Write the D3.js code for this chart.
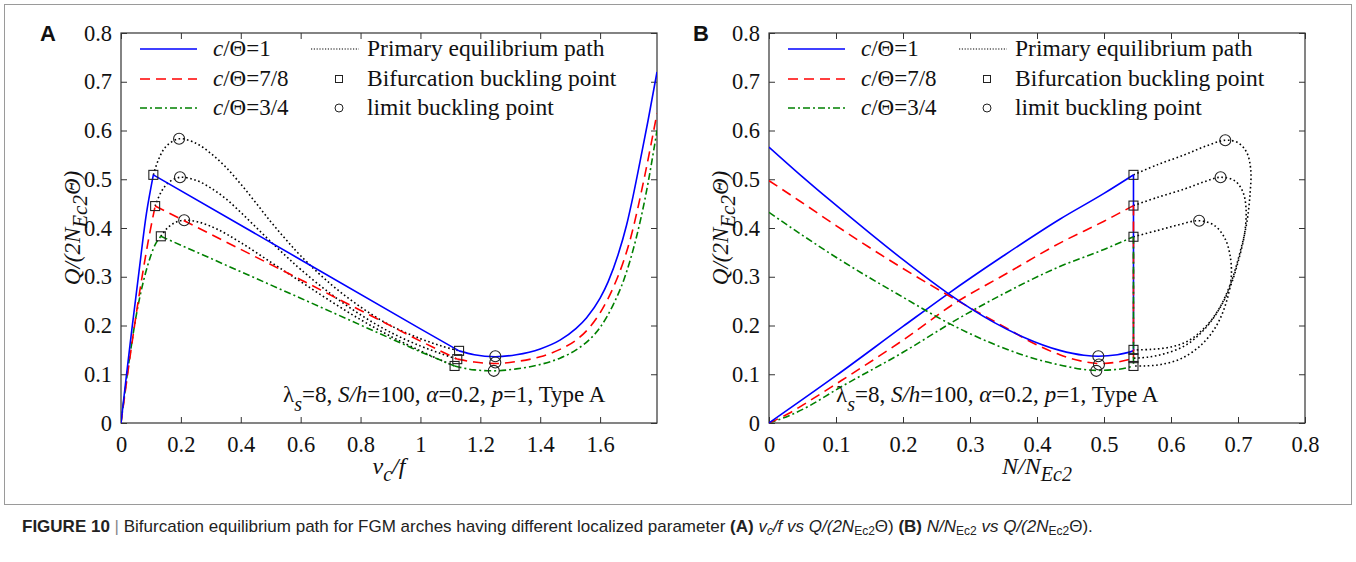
<!DOCTYPE html>
<html><head><meta charset="utf-8">
<script src="https://cdnjs.cloudflare.com/ajax/libs/d3/7.8.5/d3.min.js"></script>
<style>
body{margin:0;background:#fff;}
svg{display:block;}
</style></head>
<body>
<svg id="chart" width="1356" height="562"></svg>
<script>
// ---------------- DATA ----------------
const seriesLabels = ["c/Θ=1", "c/Θ=7/8", "c/Θ=3/4"];
const seriesColors = ["#0000ff", "#ff0000", "#008000"];
const seriesDash = [null, "10,6", "7,3,2,3"];
const yTicks = [0, 0.1, 0.2, 0.3, 0.4, 0.5, 0.6, 0.7, 0.8];
const xTicksA = [0, 0.2, 0.4, 0.6, 0.8, 1, 1.2, 1.4, 1.6];
const xTicksB = [0, 0.1, 0.2, 0.3, 0.4, 0.5, 0.6, 0.7, 0.8];

// Panel A: v_c/f vs Q/(2N_Ec2 Θ)
// pre-buckling ramps (0 -> bifurcation point)
const aBlueRamp = [[0,0],[0.03,0.16],[0.06,0.31],[0.085,0.43],[0.108,0.509]];
const aRedRamp = [[0,0],[0.03,0.135],[0.06,0.26],[0.09,0.37],[0.114,0.445]];
const aGreenRamp = [[0,0],[0.03,0.14],[0.06,0.25],[0.09,0.325],[0.115,0.367],[0.133,0.383]];
// bifurcation branches (upper -> lower bifurcation point)
const aBlueBranch = [[0.108,0.509],[0.6,0.335],[1.0,0.193],[1.129,0.148]];
const aRedBranch = [[0.114,0.445],[0.6,0.294],[1.0,0.168],[1.123,0.131]];
const aGreenBranch = [[0.133,0.383],[0.6,0.256],[1.0,0.146],[1.114,0.117]];
// post-buckling (lower bifurcation point -> end)
const aBlueRight = [[1.129,0.148],[1.18,0.14],[1.25,0.136],[1.32,0.14],[1.40,0.152],[1.466,0.17],[1.52,0.194],[1.555,0.216],[1.6,0.256],[1.627,0.29],[1.66,0.345],[1.688,0.405],[1.71,0.465],[1.733,0.535],[1.76,0.62],[1.79,0.72]];
const aRedRight = [[1.123,0.131],[1.18,0.125],[1.25,0.122],[1.32,0.126],[1.40,0.136],[1.466,0.151],[1.52,0.17],[1.566,0.197],[1.60,0.226],[1.644,0.278],[1.68,0.335],[1.70,0.375],[1.722,0.43],[1.75,0.51],[1.79,0.635]];
const aGreenRight = [[1.114,0.117],[1.18,0.109],[1.245,0.107],[1.32,0.111],[1.40,0.12],[1.466,0.133],[1.52,0.15],[1.566,0.172],[1.60,0.196],[1.644,0.243],[1.68,0.295],[1.70,0.333],[1.722,0.383],[1.75,0.46],[1.79,0.60]];
// primary equilibrium paths (dotted)
const aBluePrimary = [[0.108,0.509],[0.125,0.54],[0.15,0.567],[0.194,0.583],[0.25,0.574],[0.30,0.553],[0.35,0.525],[0.40,0.49],[0.45,0.452],[0.50,0.413],[0.55,0.377],[0.60,0.343],[0.70,0.285],[0.80,0.238],[0.90,0.2],[1.00,0.173],[1.07,0.158],[1.129,0.148]];
const aRedPrimary = [[0.114,0.445],[0.135,0.475],[0.16,0.494],[0.197,0.504],[0.25,0.498],[0.30,0.482],[0.35,0.46],[0.40,0.432],[0.45,0.402],[0.50,0.372],[0.55,0.343],[0.60,0.315],[0.70,0.265],[0.80,0.222],[0.90,0.186],[1.00,0.158],[1.07,0.142],[1.123,0.131]];
const aGreenPrimary = [[0.133,0.383],[0.155,0.4],[0.18,0.411],[0.211,0.416],[0.26,0.412],[0.32,0.398],[0.40,0.37],[0.50,0.33],[0.60,0.29],[0.70,0.25],[0.80,0.212],[0.90,0.178],[1.00,0.148],[1.06,0.131],[1.114,0.117]];
const aBifurcation = [[0.108,0.509],[0.114,0.445],[0.133,0.383],[1.129,0.148],[1.123,0.131],[1.114,0.117]];
const aLimit = [[0.194,0.583],[0.197,0.504],[0.211,0.416],[1.25,0.137],[1.25,0.124],[1.245,0.107]];

// Panel B: N/N_Ec2 vs Q/(2N_Ec2 Θ)
const bBlueRise = [[0,0],[0.1,0.097],[0.2,0.198],[0.265,0.263],[0.35,0.343],[0.434,0.418],[0.5,0.471],[0.544,0.509]];
const bRedRise = [[0,0],[0.03,0.02],[0.06,0.045],[0.1,0.08],[0.2,0.17],[0.28,0.248],[0.35,0.303],[0.434,0.369],[0.5,0.414],[0.544,0.446]];
const bGreenRise = [[0,0],[0.03,0.015],[0.06,0.035],[0.1,0.068],[0.2,0.145],[0.285,0.216],[0.35,0.265],[0.434,0.321],[0.5,0.356],[0.544,0.382]];
const bBlueFall = [[0,0.566],[0.05,0.505],[0.091,0.457],[0.15,0.39],[0.2,0.335],[0.265,0.268],[0.335,0.207],[0.38,0.176],[0.434,0.149],[0.47,0.139],[0.4915,0.137],[0.52,0.14],[0.544,0.148]];
const bRedFall = [[0,0.497],[0.044,0.457],[0.1,0.405],[0.15,0.36],[0.2,0.317],[0.28,0.252],[0.35,0.198],[0.4,0.16],[0.434,0.14],[0.47,0.126],[0.4925,0.122],[0.52,0.125],[0.544,0.133]];
const bGreenFall = [[0,0.432],[0.05,0.385],[0.1,0.34],[0.15,0.298],[0.2,0.258],[0.265,0.207],[0.33,0.165],[0.38,0.139],[0.434,0.119],[0.4885,0.108],[0.52,0.11],[0.544,0.117]];
const bBlueVert = [[0.544,0.509],[0.544,0.148]];
const bRedVert = [[0.544,0.446],[0.544,0.133]];
const bGreenVert = [[0.544,0.382],[0.544,0.117]];
const bBluePrimary = [[0.544,0.509],[0.58,0.53],[0.62,0.55],[0.65,0.567],[0.681,0.58],[0.70,0.575],[0.713,0.555],[0.719,0.52],[0.718,0.47],[0.713,0.41],[0.703,0.35],[0.69,0.29],[0.672,0.235],[0.65,0.195],[0.625,0.168],[0.60,0.156],[0.57,0.151],[0.544,0.15]];
const bRedPrimary = [[0.544,0.446],[0.58,0.463],[0.62,0.48],[0.65,0.495],[0.674,0.504],[0.695,0.497],[0.707,0.475],[0.712,0.44],[0.71,0.39],[0.70,0.33],[0.687,0.275],[0.668,0.225],[0.645,0.185],[0.62,0.158],[0.59,0.142],[0.565,0.135],[0.544,0.133]];
const bGreenPrimary = [[0.544,0.382],[0.58,0.395],[0.61,0.406],[0.642,0.415],[0.665,0.405],[0.68,0.38],[0.688,0.345],[0.69,0.30],[0.683,0.25],[0.668,0.20],[0.645,0.16],[0.615,0.132],[0.585,0.12],[0.56,0.117],[0.544,0.117]];
const bBifurcation = [[0.544,0.509],[0.544,0.446],[0.544,0.382],[0.544,0.15],[0.544,0.133],[0.544,0.117]];
const bLimit = [[0.681,0.58],[0.674,0.504],[0.642,0.415],[0.4915,0.137],[0.4925,0.12],[0.4885,0.107]];

const legendExtra = ["Primary equilibrium path", "Bifurcation buckling point", "limit buckling point"];
const noteText = "Type A";

// ---------------- DRAW ----------------
const svg = d3.select("#chart");
const serif = "'Liberation Serif','Times New Roman',serif";
const sans = "'Liberation Sans',Arial,sans-serif";

svg.append("rect").attr("x",4.5).attr("y",4.5).attr("width",1347).attr("height",500)
  .attr("fill","none").attr("stroke","#9a9a9a").attr("stroke-width",1);

const plotTop = 33, plotBottom = 423;
const y = d3.scaleLinear().domain([0,0.8]).range([plotBottom, plotTop]);

function panel(cfg){
  const x = d3.scaleLinear().domain(cfg.xDomain).range([cfg.left, cfg.right]);
  const g = svg.append("g");
  g.append("rect").attr("x",cfg.left).attr("y",plotTop).attr("width",cfg.right-cfg.left).attr("height",plotBottom-plotTop)
    .attr("fill","none").attr("stroke","#333").attr("stroke-width",1.2);
  const axB = d3.axisBottom(x).tickValues(cfg.xTicks).tickSizeInner(-6).tickSizeOuter(0).tickPadding(13).tickFormat(d3.format("~g"));
  const axT = d3.axisTop(x).tickValues(cfg.xTicks).tickSizeInner(-6).tickSizeOuter(0).tickFormat("");
  const axL = d3.axisLeft(y).tickValues(yTicks).tickSizeInner(-6).tickSizeOuter(0).tickPadding(9).tickFormat(d3.format("~g"));
  const axR = d3.axisRight(y).tickValues(yTicks).tickSizeInner(-6).tickSizeOuter(0).tickFormat("");
  const styleAxis = sel => { sel.select(".domain").remove(); sel.selectAll("line").attr("stroke","#333");
    sel.selectAll("text").attr("font-family",serif).attr("font-size",22.5).attr("fill","#111"); };
  g.append("g").attr("transform",`translate(0,${plotBottom})`).call(axB).call(styleAxis);
  g.append("g").attr("transform",`translate(0,${plotTop})`).call(axT).call(styleAxis);
  g.append("g").attr("transform",`translate(${cfg.left},0)`).call(axL).call(styleAxis);
  g.append("g").attr("transform",`translate(${cfg.right},0)`).call(axR).call(styleAxis);

  const clipId = "clip"+cfg.name;
  svg.append("clipPath").attr("id",clipId).append("rect").attr("x",cfg.left).attr("y",plotTop-2)
    .attr("width",cfg.right-cfg.left).attr("height",plotBottom-plotTop+4);
  const pg = g.append("g").attr("clip-path",`url(#${clipId})`);

  const lineLin = d3.line().x(d=>x(d[0])).y(d=>y(d[1])).curve(d3.curveLinear);
  const lineMono = d3.line().x(d=>x(d[0])).y(d=>y(d[1])).curve(d3.curveMonotoneX);
  const lineSmooth = d3.line().x(d=>x(d[0])).y(d=>y(d[1])).curve(d3.curveCatmullRom.alpha(0.5));
  const gen = {lin:lineLin, mono:lineMono, smooth:lineSmooth};

  cfg.primary.forEach(p => pg.append("path").attr("d",gen[cfg.primaryCurve](p)).attr("fill","none")
    .attr("stroke","#000").attr("stroke-width",1.6).attr("stroke-dasharray","1.6,2.6"));
  cfg.colored.forEach(c => pg.append("path").attr("d",gen[c.c](c.data)).attr("fill","none")
    .attr("stroke",seriesColors[c.s]).attr("stroke-width",1.6).attr("stroke-dasharray",seriesDash[c.s]));
  pg.selectAll(null).data(cfg.bif).join("rect")
    .attr("x",d=>x(d[0])-4.5).attr("y",d=>y(d[1])-4.5).attr("width",9).attr("height",9)
    .attr("fill","none").attr("stroke","#222").attr("stroke-width",1.1);
  pg.selectAll(null).data(cfg.lim).join("circle")
    .attr("cx",d=>x(d[0])).attr("cy",d=>y(d[1])).attr("r",5.5)
    .attr("fill","none").attr("stroke","#222").attr("stroke-width",1.1);

  // legend
  const lx = cfg.left + 19, rows = [49, 79, 108];
  seriesLabels.forEach((lab,i) => {
    g.append("line").attr("x1",lx).attr("x2",lx+57).attr("y1",rows[i]).attr("y2",rows[i])
      .attr("stroke",seriesColors[i]).attr("stroke-width",1.6).attr("stroke-dasharray",seriesDash[i]);
    const t = g.append("text").attr("x",lx+73).attr("y",rows[i]+7).attr("font-family",serif).attr("font-size",23).attr("fill","#111");
    t.append("tspan").attr("font-style","italic").text("c");
    t.append("tspan").text(lab.slice(1));
  });
  const mx = cfg.left + 218;
  g.append("line").attr("x1",cfg.left+190).attr("x2",cfg.left+238).attr("y1",rows[0]).attr("y2",rows[0])
    .attr("stroke","#000").attr("stroke-width",1.2).attr("stroke-dasharray","1.2,1.6");
  g.append("rect").attr("x",mx-3.5).attr("y",rows[1]-3.5).attr("width",7).attr("height",7).attr("fill","none").attr("stroke","#222");
  g.append("circle").attr("cx",mx).attr("cy",rows[2]).attr("r",4).attr("fill","none").attr("stroke","#222");
  legendExtra.forEach((t,i) => g.append("text").attr("x",cfg.left+246).attr("y",rows[i]+7)
    .attr("font-family",serif).attr("font-size",23.5).attr("fill","#111").text(t));

  // annotation
  const ann = g.append("text").attr("x",cfg.annX).attr("y",402).attr("font-family",serif).attr("font-size",23).attr("fill","#111");
  ann.append("tspan").text("λ");
  ann.append("tspan").attr("font-style","italic").attr("font-size",20).attr("dy",9).text("s");
  ann.append("tspan").attr("dy",-9).text("=8, ");
  ann.append("tspan").attr("font-style","italic").text("S/h");
  ann.append("tspan").text("=100, ");
  ann.append("tspan").attr("font-style","italic").text("α");
  ann.append("tspan").text("=0.2, ");
  ann.append("tspan").attr("font-style","italic").text("p");
  ann.append("tspan").text("=1, " + noteText);

  g.append("text").attr("x",cfg.letterX).attr("y",41).attr("font-family",sans).attr("font-weight","bold")
    .attr("font-size",22).attr("fill","#111").text(cfg.name);

  const yl = g.append("text").attr("transform",`translate(${cfg.left-41},${(plotTop+plotBottom)/2}) rotate(-90)`)
    .attr("text-anchor","middle").attr("font-family",serif).attr("font-size",23).attr("font-style","italic").attr("fill","#111");
  yl.append("tspan").text("Q/(2N");
  yl.append("tspan").attr("dy",7).attr("font-size",21).text("Ec2");
  yl.append("tspan").attr("dy",-7).text("Θ)");

  const xl = g.append("text").attr("x",(cfg.left+cfg.right)/2).attr("y",cfg.xlY).attr("text-anchor","middle")
    .attr("font-family",serif).attr("font-size",24).attr("font-style","italic").attr("fill","#111");
  cfg.xLabel(xl);
}

panel({name:"A", left:121, right:657, xDomain:[0,1.79], xTicks:xTicksA, letterX:40, annX:283, xlY:474, primaryCurve:"smooth",
  primary:[aBluePrimary,aRedPrimary,aGreenPrimary],
  colored:[{s:2,data:aGreenRamp,c:"smooth"},{s:1,data:aRedRamp,c:"smooth"},{s:0,data:aBlueRamp,c:"smooth"},
           {s:2,data:aGreenBranch,c:"lin"},{s:1,data:aRedBranch,c:"lin"},{s:0,data:aBlueBranch,c:"lin"},
           {s:2,data:aGreenRight,c:"mono"},{s:1,data:aRedRight,c:"mono"},{s:0,data:aBlueRight,c:"mono"}],
  bif:aBifurcation, lim:aLimit,
  xLabel: t => { t.append("tspan").text("v"); t.append("tspan").attr("dy",7).attr("font-size",20).text("c"); t.append("tspan").attr("dy",-7).text("/f"); }
});
panel({name:"B", left:769, right:1305, xDomain:[0,0.8], xTicks:xTicksB, letterX:693, annX:836, xlY:474, primaryCurve:"smooth",
  primary:[bBluePrimary,bRedPrimary,bGreenPrimary],
  colored:[{s:2,data:bGreenRise,c:"mono"},{s:1,data:bRedRise,c:"mono"},{s:0,data:bBlueRise,c:"mono"},
           {s:2,data:bGreenFall,c:"mono"},{s:1,data:bRedFall,c:"mono"},{s:0,data:bBlueFall,c:"mono"},
           {s:0,data:bBlueVert,c:"lin"},{s:1,data:bRedVert,c:"lin"},{s:2,data:bGreenVert,c:"lin"}],
  bif:bBifurcation, lim:bLimit,
  xLabel: t => { t.append("tspan").text("N/N"); t.append("tspan").attr("dy",7).attr("font-size",20).text("Ec2"); }
});

const cap = svg.append("text").attr("x",22).attr("y",532).attr("font-family",sans).attr("font-size",17).attr("fill","#222");
cap.append("tspan").attr("font-weight","bold").text("FIGURE 10");
cap.append("tspan").attr("fill","#888").text(" | ");
cap.append("tspan").text("Bifurcation equilibrium path for FGM arches having different localized parameter ");
cap.append("tspan").attr("font-weight","bold").text("(A) ");
cap.append("tspan").attr("font-style","italic").text("v");
cap.append("tspan").attr("font-style","italic").attr("font-size",12).attr("dy",3).text("c");
cap.append("tspan").attr("font-style","italic").attr("dy",-3).text("/f vs Q/(2N");
cap.append("tspan").attr("font-size",12).attr("dy",3).text("Ec2");
cap.append("tspan").attr("dy",-3).text("Θ) ");
cap.append("tspan").attr("font-weight","bold").text("(B) ");
cap.append("tspan").attr("font-style","italic").text("N/N");
cap.append("tspan").attr("font-size",12).attr("dy",3).text("Ec2");
cap.append("tspan").attr("font-style","italic").attr("dy",-3).text(" vs Q/(2N");
cap.append("tspan").attr("font-size",12).attr("dy",3).text("Ec2");
cap.append("tspan").attr("dy",-3).text("Θ).");
</script>
</body></html>
